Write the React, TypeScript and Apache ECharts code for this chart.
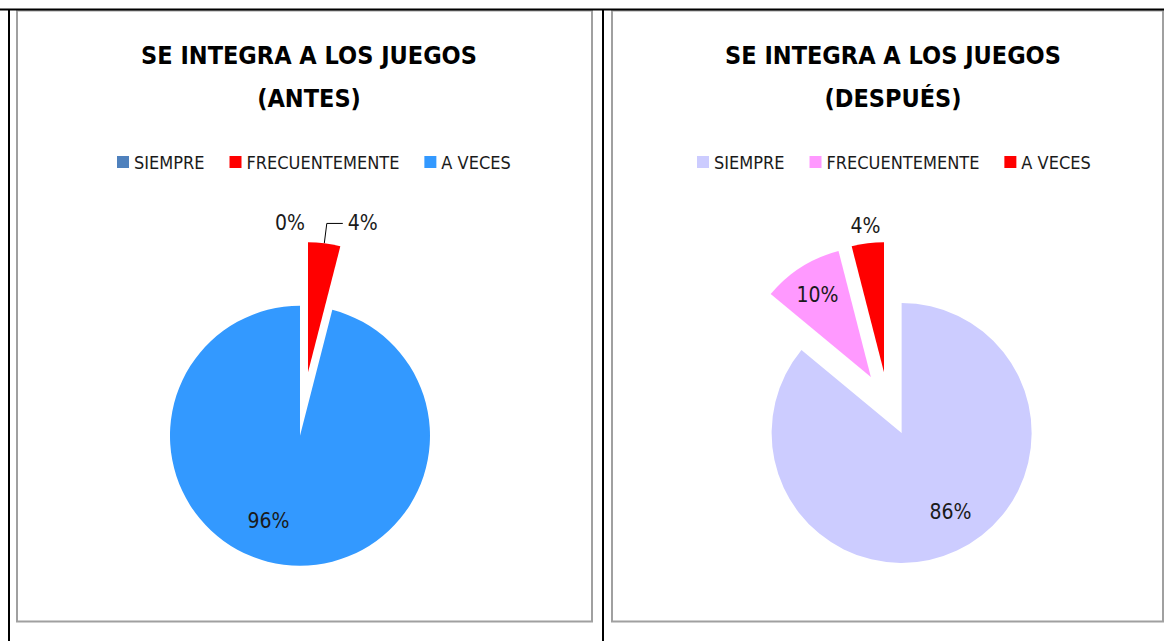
import React, { useEffect, useRef } from "react";
import * as echarts from "echarts";

const categories = ["SIEMPRE", "FRECUENTEMENTE", "A VECES"];
const antesValues = [0, 4, 96];
const despuesValues = [86, 10, 4];
const antesColors = ["#4F81BD", "#FF0000", "#3399FF"];
const despuesColors = ["#CCCCFF", "#FF99FF", "#FF0000"];
const titleAntes = "SE INTEGRA A LOS JUEGOS\n(ANTES)";
const titleDespues = "SE INTEGRA A LOS JUEGOS\n(DESPUÉS)";

const FONT = "'Liberation Sans Narrow', 'Arial Narrow', 'DejaVu Sans Condensed', sans-serif";

type LabelCfg = { position: string; offset?: number[]; line?: boolean };

function buildOption(
  title: string,
  values: number[],
  colors: string[],
  labels: LabelCfg[],
  cx: number,
  legendLeft: number,
  panel: { x: number; w: number },
  blackLines: number[][]
) {
  const data = categories.map((name, i) => ({
    name,
    value: values[i],
    selected: true,
    itemStyle: { color: colors[i] },
    label: { position: labels[i].position },
    labelLine: { show: !!labels[i].line, length: 20, length2: 16 },
  }));
  return {
    animation: false,
    backgroundColor: "#ffffff",
    title: {
      text: title,
      left: cx,
      top: 29,
      textAlign: "center",
      textStyle: {
        fontFamily: FONT,
        fontWeight: "bold",
        fontSize: 25,
        lineHeight: 43,
        color: "#000000",
      },
    },
    legend: {
      data: categories,
      orient: "horizontal",
      left: legendLeft,
      top: 148,
      icon: "rect",
      itemWidth: 12,
      itemHeight: 12,
      itemGap: 25,
      selectedMode: false,
      textStyle: { fontFamily: FONT, fontSize: 18, color: "#1a1a1a" },
    },
    graphic: [
      {
        type: "rect",
        shape: { x: panel.x, y: 10.5, width: panel.w, height: 611 },
        style: { fill: "none", stroke: "#a0a0a0", lineWidth: 2 },
        silent: true,
      },
      ...blackLines.map((l) => ({
        type: "line",
        shape: { x1: l[0], y1: l[1], x2: l[2], y2: l[3] },
        style: { stroke: "#000000", lineWidth: 2 },
        silent: true,
      })),
    ],
    series: [
      {
        type: "pie",
        center: [cx, 404],
        radius: [0, 130],
        startAngle: 90,
        clockwise: true,
        selectedMode: "multiple",
        selectedOffset: 32,
        avoidLabelOverlap: false,
        emphasis: { disabled: true },
        label: {
          show: true,
          formatter: "{c}%",
          fontFamily: FONT,
          fontSize: 21,
          color: "#1a1a1a",
        },
        labelLine: { lineStyle: { color: "#000000", width: 1 } },
        labelLayout: (params: any) => {
          const o = labels[params.dataIndex].offset;
          return o ? { dx: o[0], dy: o[1] } : {};
        },
        itemStyle: { borderWidth: 0 },
        data,
      },
    ],
  };
}

function Chart({ option, style }: { option: any; style: React.CSSProperties }) {
  const ref = useRef<HTMLDivElement>(null);
  useEffect(() => {
    if (!ref.current) return;
    const chart = echarts.init(ref.current, undefined, { renderer: "svg" });
    chart.setOption(option);
    return () => chart.dispose();
  }, [option]);
  return <div ref={ref} style={style} />;
}

const leftOption = buildOption(
  titleAntes,
  antesValues,
  antesColors,
  [
    { position: "inside", offset: [-14, -81] },
    { position: "outside", line: true },
    { position: "inside", offset: [-23, 18] },
  ],
  304,
  112,
  { x: 17, w: 575 },
  [
    [0, 9.5, 603, 9.5],
    [9, 9, 9, 641],
    [603, 9, 603, 641],
  ]
);

const rightOption = buildOption(
  titleDespues,
  despuesValues,
  despuesColors,
  [
    { position: "inside", offset: [20, 18] },
    { position: "inside", offset: [-17, -25] },
    { position: "inside", offset: [-10, -79] },
  ],
  285,
  89,
  { x: 9, w: 551 },
  [
    [0, 9.5, 561, 9.5],
    [0, 9, 0, 641],
  ]
);

export default function App() {
  return (
    <div style={{ position: "fixed", left: 0, top: 0, width: 1164, height: 641, background: "#fff" }}>
      <Chart option={leftOption} style={{ position: "absolute", left: 0, top: 0, width: 603, height: 641 }} />
      <Chart option={rightOption} style={{ position: "absolute", left: 603, top: 0, width: 561, height: 641 }} />
    </div>
  );
}
